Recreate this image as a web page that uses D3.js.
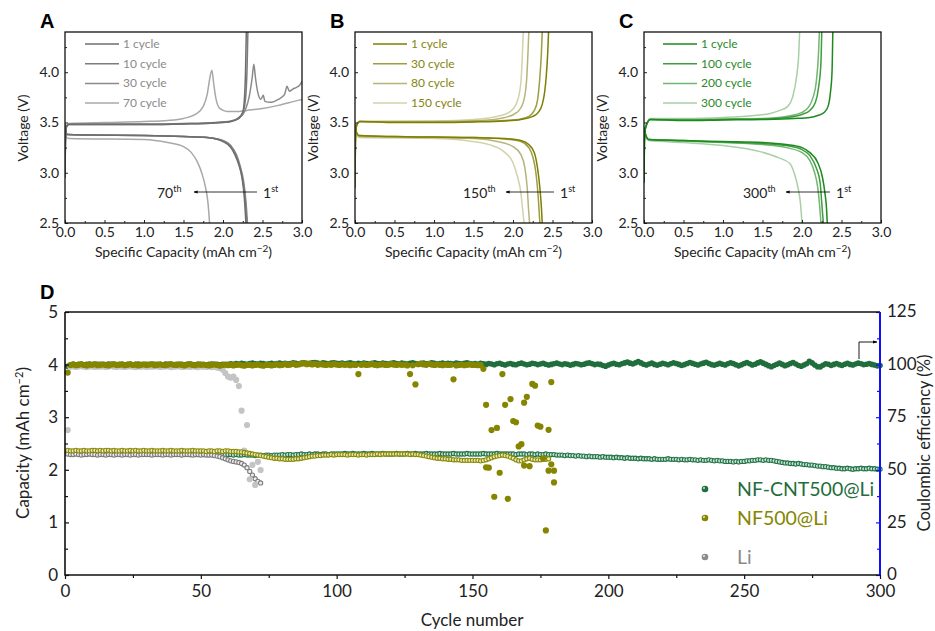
<!DOCTYPE html>
<html><head><meta charset="utf-8">
<script src="https://cdn.jsdelivr.net/npm/d3@7"></script>
<style>
body{margin:0;background:#fff}
text{font-family:Lato,"Open Sans",sans-serif;fill:#222}
</style></head><body>
<svg id="chart" width="935" height="631"></svg>
<script>
// ---- panel A: bare Li, voltage profiles [capacity, voltage]
const aCharge1 = [[0,2.95],[0.005,3.3],[0.02,3.46],[0.05,3.48],[0.5,3.48],[1.0,3.48],[1.5,3.485],[1.9,3.495],[2.1,3.51],[2.2,3.54],[2.25,3.6],[2.27,3.72],[2.285,4.0],[2.295,4.4]];
const aDisch1 = [[0,3.48],[0.01,3.42],[0.03,3.38],[0.3,3.375],[1.0,3.37],[1.5,3.36],[1.8,3.35],[2.0,3.31],[2.1,3.25],[2.15,3.18],[2.2,3.08],[2.24,2.95],[2.27,2.75],[2.29,2.5]];
const aCharge10 = [[0,2.95],[0.005,3.3],[0.02,3.46],[0.05,3.485],[0.5,3.485],[1.0,3.485],[1.5,3.49],[1.9,3.5],[2.1,3.515],[2.2,3.55],[2.26,3.62],[2.29,3.78],[2.305,4.05],[2.315,4.4]];
const aDisch10 = [[0,3.48],[0.01,3.42],[0.03,3.38],[0.3,3.375],[1.0,3.37],[1.5,3.36],[1.8,3.35],[2.0,3.315],[2.1,3.26],[2.16,3.18],[2.21,3.07],[2.25,2.93],[2.28,2.75],[2.3,2.5]];
const aCharge30 = [[0,2.95],[0.005,3.3],[0.02,3.46],[0.05,3.48],[1.0,3.48],[1.5,3.485],[1.9,3.495],[2.1,3.51],[2.2,3.54],[2.28,3.62],[2.33,3.75],[2.37,3.95],[2.39,4.08],[2.41,3.95],[2.44,3.8],[2.48,3.73],[2.51,3.77],[2.53,3.71],[2.6,3.7],[2.7,3.73],[2.78,3.78],[2.81,3.86],[2.84,3.81],[2.88,3.83],[2.93,3.85],[2.97,3.87],[3.0,3.91]];
const aDisch30 = [[0,3.48],[0.01,3.42],[0.03,3.38],[0.3,3.375],[1.0,3.37],[1.5,3.36],[1.8,3.35],[2.0,3.32],[2.1,3.27],[2.17,3.18],[2.22,3.06],[2.26,2.92],[2.29,2.72],[2.31,2.5]];
const aCharge70 = [[0,2.95],[0.005,3.3],[0.02,3.47],[0.05,3.49],[0.5,3.5],[1.0,3.51],[1.3,3.52],[1.5,3.54],[1.65,3.58],[1.75,3.66],[1.8,3.78],[1.84,3.97],[1.86,4.02],[1.88,3.9],[1.91,3.74],[1.96,3.64],[2.05,3.61],[2.2,3.61],[2.3,3.62],[2.5,3.64],[2.7,3.67],[2.9,3.71],[3.0,3.73]];
const aDisch70 = [[0,3.45],[0.02,3.35],[0.05,3.34],[1.0,3.33],[1.3,3.3],[1.5,3.26],[1.6,3.2],[1.68,3.1],[1.73,3.0],[1.78,2.85],[1.81,2.7],[1.83,2.5]];

// ---- panel B: NF500@Li
const bCharge1 = [[0,2.85],[0.005,3.3],[0.02,3.47],[0.06,3.51],[0.5,3.5],[1.0,3.5],[1.5,3.505],[1.9,3.515],[2.1,3.53],[2.25,3.56],[2.32,3.6],[2.37,3.68],[2.4,3.8],[2.42,3.95],[2.44,4.2],[2.45,4.4]];
const bDisch1 = [[0,3.48],[0.02,3.4],[0.05,3.37],[0.5,3.36],[1.0,3.355],[1.5,3.35],[1.9,3.34],[2.1,3.32],[2.2,3.28],[2.27,3.2],[2.31,3.05],[2.34,2.85],[2.36,2.65],[2.37,2.5]];
const bCharge30 = [[0,2.85],[0.005,3.3],[0.02,3.47],[0.06,3.51],[0.5,3.505],[1.0,3.505],[1.5,3.51],[1.9,3.52],[2.1,3.535],[2.2,3.56],[2.27,3.62],[2.31,3.72],[2.34,3.95],[2.36,4.2],[2.37,4.4]];
const bDisch30 = [[0,3.48],[0.02,3.4],[0.05,3.37],[0.5,3.36],[1.0,3.355],[1.5,3.35],[1.9,3.335],[2.1,3.31],[2.2,3.25],[2.25,3.16],[2.29,3.0],[2.32,2.75],[2.34,2.5]];
const bCharge80 = [[0,2.85],[0.005,3.3],[0.02,3.47],[0.06,3.51],[1.0,3.51],[1.6,3.52],[1.9,3.55],[2.05,3.6],[2.13,3.7],[2.17,3.9],[2.19,4.2],[2.2,4.4]];
const bDisch80 = [[0,3.47],[0.02,3.39],[0.05,3.36],[1.0,3.35],[1.5,3.34],[1.8,3.31],[2.0,3.26],[2.1,3.18],[2.15,3.05],[2.18,2.85],[2.2,2.6],[2.21,2.5]];
const bCharge150 = [[0,2.85],[0.005,3.3],[0.02,3.47],[0.06,3.51],[1.0,3.515],[1.5,3.53],[1.8,3.56],[1.95,3.6],[2.05,3.7],[2.1,3.9],[2.12,4.2],[2.13,4.4]];
const bDisch150 = [[0,3.46],[0.02,3.38],[0.05,3.35],[1.0,3.34],[1.4,3.32],[1.7,3.28],[1.9,3.2],[2.0,3.1],[2.06,2.95],[2.1,2.8],[2.12,2.65],[2.14,2.5]];

// ---- panel C: NF-CNT500@Li
const cCharge1 = [[0,2.9],[0.005,3.3],[0.02,3.45],[0.08,3.53],[0.5,3.52],[1.0,3.525],[1.5,3.53],[1.9,3.54],[2.1,3.55],[2.2,3.57],[2.28,3.6],[2.33,3.66],[2.36,3.8],[2.38,4.0],[2.39,4.4]];
const cDisch1 = [[0,3.45],[0.02,3.38],[0.06,3.33],[0.5,3.32],[1.0,3.31],[1.5,3.3],[1.8,3.28],[2.0,3.25],[2.1,3.2],[2.2,3.1],[2.26,2.95],[2.29,2.8],[2.31,2.65],[2.32,2.5]];
const cCharge100 = [[0,2.9],[0.005,3.3],[0.02,3.45],[0.08,3.53],[0.5,3.525],[1.0,3.53],[1.5,3.535],[1.8,3.55],[2.0,3.58],[2.1,3.62],[2.17,3.7],[2.21,3.85],[2.24,4.1],[2.25,4.4]];
const cDisch100 = [[0,3.45],[0.02,3.38],[0.06,3.33],[0.5,3.32],[1.0,3.305],[1.5,3.29],[1.8,3.27],[2.0,3.23],[2.1,3.17],[2.18,3.05],[2.23,2.9],[2.25,2.7],[2.27,2.5]];
const cCharge200 = [[0,2.9],[0.005,3.3],[0.02,3.45],[0.08,3.53],[0.5,3.53],[1.0,3.535],[1.5,3.54],[1.8,3.56],[2.0,3.6],[2.08,3.65],[2.14,3.75],[2.18,3.9],[2.21,4.2],[2.22,4.4]];
const cDisch200 = [[0,3.45],[0.02,3.38],[0.06,3.33],[0.5,3.315],[1.0,3.3],[1.5,3.28],[1.8,3.25],[2.0,3.2],[2.1,3.12],[2.16,3.0],[2.2,2.85],[2.22,2.7],[2.24,2.5]];
const cCharge300 = [[0,2.9],[0.005,3.3],[0.02,3.45],[0.08,3.54],[0.5,3.54],[1.0,3.55],[1.4,3.57],[1.6,3.59],[1.72,3.62],[1.82,3.66],[1.88,3.75],[1.93,3.95],[1.96,4.2],[1.97,4.4]];
const cDisch300 = [[0,3.45],[0.02,3.37],[0.06,3.32],[0.5,3.3],[1.0,3.27],[1.47,3.21],[1.7,3.15],[1.85,3.09],[1.9,3.0],[1.95,2.85],[1.98,2.7],[2.0,2.5]];

const capTicks = [0, 0.5, 1.0, 1.5, 2.0, 2.5, 3.0];
const voltTicks = [2.5, 3.0, 3.5, 4.0];

// ---- panel D: cycling, index = cycle - 1
const cntCap = [
2.33,2.33,2.32,2.33,2.32,2.32,2.33,2.32,2.32,2.32,2.31,2.32,2.32,2.31,2.32,2.31,2.31,2.32,2.31,2.31,
2.31,2.31,2.30,2.31,2.31,2.30,2.31,2.30,2.30,2.31,2.30,2.30,2.31,2.30,2.30,2.30,2.31,2.30,2.30,2.30,
2.30,2.30,2.29,2.30,2.30,2.29,2.30,2.29,2.29,2.30,2.29,2.29,2.29,2.30,2.29,2.29,2.29,2.28,2.29,2.29,
2.29,2.28,2.29,2.28,2.28,2.29,2.28,2.28,2.28,2.27,2.28,2.28,2.27,2.28,2.28,2.27,2.28,2.28,2.28,2.29,
2.28,2.29,2.29,2.28,2.29,2.29,2.30,2.29,2.29,2.30,2.29,2.30,2.30,2.29,2.30,2.30,2.29,2.30,2.30,2.30,
2.30,2.30,2.31,2.30,2.30,2.31,2.30,2.30,2.30,2.31,2.30,2.30,2.31,2.30,2.30,2.30,2.31,2.30,2.30,2.30,
2.30,2.31,2.30,2.30,2.30,2.31,2.30,2.30,2.31,2.30,2.30,2.30,2.31,2.30,2.30,2.30,2.30,2.31,2.30,2.30,
2.30,2.30,2.31,2.30,2.30,2.30,2.30,2.31,2.30,2.30,2.30,2.30,2.30,2.31,2.30,2.30,2.30,2.30,2.31,2.30,
2.30,2.30,2.30,2.30,2.30,2.29,2.30,2.30,2.30,2.29,2.30,2.30,2.29,2.30,2.29,2.29,2.30,2.29,2.29,2.29,
2.28,2.28,2.28,2.27,2.28,2.27,2.27,2.26,2.27,2.26,2.26,2.25,2.26,2.25,2.25,2.25,2.24,2.25,2.24,2.24,
2.24,2.23,2.24,2.23,2.23,2.22,2.23,2.22,2.22,2.22,2.21,2.22,2.21,2.21,2.21,2.20,2.21,2.20,2.20,2.20,
2.20,2.21,2.20,2.20,2.20,2.19,2.20,2.19,2.19,2.20,2.19,2.19,2.18,2.19,2.18,2.18,2.19,2.18,2.17,2.18,
2.17,2.17,2.16,2.16,2.16,2.15,2.16,2.15,2.16,2.16,2.17,2.17,2.18,2.18,2.19,2.19,2.18,2.19,2.18,2.18,
2.17,2.16,2.15,2.14,2.13,2.13,2.12,2.12,2.11,2.12,2.11,2.10,2.10,2.09,2.09,2.08,2.07,2.07,2.06,2.06,
2.05,2.04,2.04,2.03,2.03,2.02,2.02,2.03,2.02,2.01,2.02,2.02,2.03,2.02,2.02,2.03,2.02,2.02,2.01,2.01];
const cntCE = [
99.2,99.8,100.1,99.9,100.2,100.0,99.8,100.1,100.3,100.0,99.9,100.2,100.1,99.8,100.0,100.3,100.1,99.9,100.0,100.2,
100.1,99.9,100.2,100.0,99.8,100.1,100.3,100.0,99.9,100.2,100.0,99.8,100.1,100.2,100.0,99.9,100.3,100.1,100.0,99.8,
100.2,100.0,100.1,99.9,100.2,100.3,100.0,99.9,100.1,100.2,100.0,99.8,100.1,100.3,100.0,100.2,99.9,100.1,100.0,100.2,
100.4,100.2,100.5,100.3,100.6,100.4,100.2,100.5,100.7,100.4,100.3,100.6,100.5,100.2,100.4,100.6,100.3,100.5,100.7,100.4,
100.6,100.3,100.5,100.8,100.6,100.4,100.7,100.9,100.6,100.5,100.8,101.0,100.7,100.5,100.8,100.6,100.4,100.7,100.9,100.6,
100.5,100.7,100.4,100.6,100.8,100.5,100.3,100.6,100.4,100.7,100.5,100.3,100.6,100.8,100.5,100.4,100.7,100.5,100.3,100.6,
100.8,100.5,100.4,100.7,100.5,100.3,100.6,100.8,100.5,100.4,100.6,100.7,100.4,100.5,100.8,100.6,100.3,100.5,100.7,100.4,
100.6,100.5,100.3,100.7,100.5,100.4,100.6,100.8,100.5,100.3,100.5,100.2,100.6,100.4,100.1,100.5,100.3,99.9,100.4,100.6,
100.2,99.8,100.3,100.5,100.1,99.9,100.4,100.7,100.3,99.9,100.2,100.6,100.4,100.0,100.3,100.6,100.2,99.8,100.1,100.4,
100.7,100.3,100.0,100.4,100.2,99.7,100.1,100.5,100.3,99.9,100.2,100.6,100.8,100.4,100.0,100.3,100.1,99.6,99.2,99.8,
100.3,100.6,100.2,99.9,100.4,100.8,101.2,100.7,100.3,100.9,101.5,100.8,100.2,99.8,100.3,100.7,100.1,99.7,100.2,100.6,
100.3,99.9,100.4,100.9,100.5,100.1,99.6,100.0,100.5,101.0,100.6,100.2,99.8,100.3,100.7,101.1,100.5,100.0,99.7,100.2,
100.6,100.2,99.8,100.4,100.9,100.5,99.9,99.4,99.9,100.5,101.0,100.4,99.8,100.2,100.8,101.3,100.7,100.1,99.5,99.0,
99.6,100.2,100.7,100.1,99.5,99.9,100.5,101.0,100.3,99.6,99.2,99.8,100.4,101.6,100.8,99.8,99.0,98.9,99.7,100.4,
100.2,99.6,100.1,100.5,100.0,99.6,100.2,100.6,100.1,99.8,100.3,100.7,100.4,100.0,100.2,100.5,100.1,99.8,99.4,99.6];
const nfCap = [
2.37,2.36,2.36,2.37,2.36,2.36,2.37,2.36,2.36,2.37,2.37,2.36,2.37,2.36,2.37,2.37,2.36,2.37,2.36,2.36,
2.37,2.36,2.36,2.37,2.36,2.37,2.36,2.36,2.37,2.36,2.36,2.37,2.36,2.36,2.36,2.37,2.36,2.36,2.37,2.36,
2.36,2.36,2.37,2.36,2.36,2.36,2.37,2.36,2.36,2.36,2.36,2.35,2.36,2.36,2.35,2.36,2.36,2.35,2.36,2.36,
2.35,2.35,2.35,2.34,2.34,2.33,2.32,2.31,2.30,2.29,2.28,2.27,2.26,2.25,2.24,2.23,2.22,2.22,2.21,2.21,
2.20,2.20,2.20,2.20,2.21,2.21,2.22,2.23,2.24,2.25,2.26,2.26,2.27,2.27,2.28,2.28,2.28,2.29,2.28,2.29,
2.29,2.29,2.29,2.28,2.29,2.29,2.29,2.28,2.29,2.29,2.28,2.29,2.29,2.29,2.30,2.29,2.30,2.30,2.30,2.30,
2.30,2.30,2.30,2.30,2.30,2.30,2.29,2.30,2.29,2.29,2.28,2.27,2.26,2.25,2.24,2.23,2.22,2.22,2.21,2.21,
2.20,2.20,2.19,2.19,2.19,2.18,2.18,2.18,2.18,2.18,2.18,2.18,2.17,2.18,2.19,2.21,2.23,2.25,2.26,2.27,
2.28,2.27,2.26,2.24,2.22,2.19,2.17,2.17,2.19,2.21,2.22,2.20,2.19,2.19,2.19,2.20,2.20,2.21];
const nfCE = [
96.2,99.8,100.1,99.7,99.9,100.2,99.8,99.6,100.0,99.9,100.2,99.7,99.9,100.1,99.8,99.6,100.0,100.2,99.8,99.9,
100.1,99.7,99.9,100.2,99.8,100.0,99.6,99.9,100.1,99.8,100.0,100.2,99.7,99.9,100.1,99.8,99.7,100.0,100.2,99.9,
99.8,100.1,99.9,99.6,100.0,100.2,99.8,99.7,100.1,99.9,100.0,99.8,99.6,99.9,100.1,99.8,99.5,99.8,100.0,99.7,
99.9,99.6,99.8,100.0,99.7,99.5,99.8,99.9,99.6,99.8,100.0,99.7,99.5,99.8,99.9,99.6,99.8,100.1,99.7,99.9,
100.2,99.8,100.0,100.3,99.9,100.1,100.4,100.6,100.2,100.5,100.1,100.3,99.9,100.2,100.0,99.8,100.1,99.9,100.2,100.0,
99.8,100.1,99.9,100.0,99.7,100.0,99.8,95.5,99.9,100.1,99.8,100.0,100.2,99.9,99.7,100.0,100.1,99.8,99.9,100.2,
100.0,99.8,100.1,99.9,100.0,99.6,95.5,99.7,90.6,100.2,100.4,100.1,99.9,100.3,100.0,99.8,100.1,99.9,99.7,100.0,
99.8,99.9,93.0,99.6,99.8,100.0,99.7,99.9,100.1,99.8,99.9,99.7,99.8,98.0,80.9,51.0,68.9,37.2,69.9,48.6,
95.5,80.9,36.2,83.6,73.2,72.6,61.1,62.2,81.9,84.7,51.7,90.8,90.0,71.0,70.5,55.5,21.2,69.0,91.7,44.0];
const nfCEExtra = [[155,51.2],[169,52.0],[178,49.6],[179,52.6],[180,49.6]];
const liCap = [
2.30,2.29,2.29,2.30,2.29,2.28,2.29,2.29,2.30,2.29,2.29,2.28,2.29,2.29,2.28,2.29,2.29,2.28,2.29,2.29,
2.28,2.29,2.29,2.28,2.29,2.29,2.28,2.29,2.29,2.29,2.29,2.28,2.29,2.29,2.29,2.28,2.29,2.29,2.28,2.29,
2.29,2.29,2.28,2.29,2.29,2.29,2.28,2.29,2.29,2.28,2.29,2.28,2.28,2.28,2.27,2.26,2.25,2.23,2.21,2.19,
2.17,2.16,2.15,2.14,2.12,2.09,2.04,1.97,1.90,1.83,1.78,1.75];
const liCE = [
68.9,99.0,99.2,98.9,99.1,99.3,99.0,98.8,99.1,99.2,98.9,99.1,99.0,99.2,98.9,99.1,99.3,99.0,98.9,99.2,
99.0,98.9,99.1,99.2,99.0,98.8,99.1,99.0,99.2,98.9,99.1,99.0,99.2,99.1,98.9,99.0,99.2,99.1,98.8,99.0,
99.1,99.2,98.9,99.0,99.1,98.9,99.2,99.0,98.8,99.1,99.0,98.9,99.1,98.8,98.9,98.6,98.4,97.7,96.0,94.3,
93.8,94.3,92.7,89.8,78.1,59.1,71.3,45.5,52.3,42.8,53.8,49.9];

const cycleTicks = [0, 50, 100, 150, 200, 250, 300];
const capDTicks = [0, 1, 2, 3, 4, 5];
const ceTicks = [0, 25, 50, 75, 100, 125];

const svg = d3.select("#chart");
svg.append("rect").attr("width", 935).attr("height", 631).attr("fill", "#fff");
const defs = svg.append("defs");
defs.append("marker").attr("id", "arr").attr("viewBox", "0 0 10 10")
    .attr("refX", 9).attr("refY", 5).attr("markerWidth", 5).attr("markerHeight", 5)
    .attr("orient", "auto").append("path").attr("d", "M0,1.5L10,5L0,8.5Z").attr("fill", "#000");

function sup(text, base, s, size) {
    text.append("tspan").text(base);
    text.append("tspan").attr("dy", -6).attr("font-size", size).text(s);
}

function drawPanel(p) {
    const g = svg.append("g");
    const x = d3.scaleLinear().domain([0, 3]).range([p.x0, p.x0 + 237]);
    const y = d3.scaleLinear().domain([2.5, 4.4]).range([223, 32]);
    defs.append("clipPath").attr("id", "clip" + p.name)
        .append("rect").attr("x", p.x0).attr("y", 32).attr("width", 237).attr("height", 191);
    const line = d3.line().x(d => x(d[0])).y(d => y(d[1])).curve(d3.curveMonotoneX);

    // curves, last (oldest style) first so 1st cycle stays on top
    p.curves.slice().reverse().forEach(c => {
        [c.charge, c.disch].forEach(pts => {
            g.append("path").attr("clip-path", `url(#clip${p.name})`)
                .attr("d", line(pts)).attr("fill", "none")
                .attr("stroke", c.color).attr("stroke-width", 1.5);
        });
    });

    // axes
    g.append("g").attr("transform", "translate(0,223)")
        .call(d3.axisBottom(x).tickValues(capTicks).tickFormat(d3.format(".1f")).tickSize(-3).tickPadding(4));
    g.append("g").attr("transform", "translate(0,223)")
        .call(d3.axisBottom(x).tickValues(d3.range(0.25, 3, 0.5)).tickFormat("").tickSize(-2));
    g.append("g").attr("transform", `translate(${p.x0},0)`)
        .call(d3.axisLeft(y).tickValues(voltTicks).tickFormat(d3.format(".1f")).tickSize(-3).tickPadding(6));
    g.append("g").attr("transform", `translate(${p.x0},0)`)
        .call(d3.axisLeft(y).tickValues([2.75, 3.25, 3.75, 4.25]).tickFormat("").tickSize(-2));
    g.selectAll(".domain").remove();
    g.selectAll(".tick text").attr("font-size", 14).attr("font-family", "Lato").attr("fill", "#222");
    g.selectAll(".tick line").attr("stroke", "#222");

    g.append("rect").attr("x", p.x0).attr("y", 32).attr("width", 237).attr("height", 191)
        .attr("fill", "none").attr("stroke", "#111").attr("stroke-width", 1.3);

    // titles
    const xt = g.append("text").attr("x", p.x0 + 118.5).attr("y", 257).attr("text-anchor", "middle").attr("font-size", 14);
    xt.append("tspan").text("Specific Capacity (mAh cm");
    xt.append("tspan").attr("dy", -5).attr("font-size", 10).text("−2");
    xt.append("tspan").attr("dy", 5).text(")");
    g.append("text").attr("transform", `translate(${p.x0 - 37},128) rotate(-90)`)
        .attr("text-anchor", "middle").attr("font-size", 14).text("Voltage (V)");

    g.append("text").attr("x", p.x0 - 25).attr("y", 28).attr("font-size", 20)
        .attr("font-weight", "bold").style("font-family", "'Liberation Sans',Arial,sans-serif")
        .style("fill", "#000").text(p.name);

    // legend
    p.curves.forEach((c, i) => {
        const ly = 44 + i * 19.7;
        g.append("line").attr("x1", p.x0 + p.leg).attr("x2", p.x0 + p.leg + 34)
            .attr("y1", ly).attr("y2", ly).attr("stroke", c.color).attr("stroke-width", 1.5);
        g.append("text").attr("x", p.x0 + p.leg + 38).attr("y", ly + 4).attr("font-size", 12)
            .style("fill", p.textColor).text(c.label);
    });

    // annotation arrow
    const a = p.anno;
    const t1 = g.append("text").attr("x", a.tx).attr("y", 198).attr("font-size", 14);
    sup(t1, a.last, "th", 9);
    g.append("line").attr("x1", a.x1).attr("x2", a.x2).attr("y1", 192).attr("y2", 192)
        .attr("stroke", "#000").attr("stroke-width", 0.8).attr("marker-end", "url(#arr)");
    const t2 = g.append("text").attr("x", a.x1 + 6).attr("y", 198).attr("font-size", 14);
    sup(t2, "1", "st", 9);
}

drawPanel({name: "A", x0: 65, leg: 20, textColor: "#8a8a8a",
    anno: {last: "70", tx: 157, x1: 257, x2: 194},
    curves: [
        {label: "1 cycle", color: "#6e6e6e", charge: aCharge1, disch: aDisch1},
        {label: "10 cycle", color: "#7c7c7c", charge: aCharge10, disch: aDisch10},
        {label: "30 cycle", color: "#8a8a8a", charge: aCharge30, disch: aDisch30},
        {label: "70 cycle", color: "#a8a8a8", charge: aCharge70, disch: aDisch70}]});
drawPanel({name: "B", x0: 355, leg: 18, textColor: "#858510",
    anno: {last: "150", tx: 463, x1: 554, x2: 506},
    curves: [
        {label: "1 cycle", color: "#7f7f00", charge: bCharge1, disch: bDisch1},
        {label: "30 cycle", color: "#9d9d45", charge: bCharge30, disch: bDisch30},
        {label: "80 cycle", color: "#b5b57a", charge: bCharge80, disch: bDisch80},
        {label: "150 cycle", color: "#d2d2ac", charge: bCharge150, disch: bDisch150}]});
drawPanel({name: "C", x0: 644, leg: 19, textColor: "#2a8a2a",
    anno: {last: "300", tx: 743, x1: 830, x2: 786},
    curves: [
        {label: "1 cycle", color: "#1d8a1d", charge: cCharge1, disch: cDisch1},
        {label: "100 cycle", color: "#3f9c3f", charge: cCharge100, disch: cDisch100},
        {label: "200 cycle", color: "#72b672", charge: cCharge200, disch: cDisch200},
        {label: "300 cycle", color: "#a9cfa9", charge: cCharge300, disch: cDisch300}]});

// ---- panel D
const gD = svg.append("g");
const xD = d3.scaleLinear().domain([0, 300]).range([65, 880]);
const yL = d3.scaleLinear().domain([0, 5]).range([575, 312]);
const yR = d3.scaleLinear().domain([0, 125]).range([575, 312]);

function capDots(arr, fill, stroke) {
    gD.append("g").selectAll("circle").data(arr).join("circle")
        .attr("cx", (d, i) => xD(i + 1)).attr("cy", d => yL(d)).attr("r", 2.1)
        .attr("fill", fill).attr("stroke", stroke).attr("stroke-width", 1.1);
}
function ceDots(arr, color, r) {
    gD.append("g").selectAll("circle").data(arr).join("circle")
        .attr("cx", (d, i) => xD(i + 1)).attr("cy", d => yR(d)).attr("r", r).attr("fill", color);
}

const green = "#1f6e3c", olive = "#858500", liLight = "#c4c4c4", liDark = "#8a8a8a";
capDots(cntCap, "#cfe5d5", "#24744a");
ceDots(cntCE, green, 2.8);
capDots(liCap, "#f0f0f0", "#7c7c7c");
ceDots(liCE, liLight, 3.1);
capDots(nfCap, "#ecebb8", "#8a8a0c");
ceDots(nfCE, olive, 3.1);
gD.append("g").selectAll("circle").data(nfCEExtra).join("circle")
    .attr("cx", d => xD(d[0])).attr("cy", d => yR(d[1])).attr("r", 3.1).attr("fill", olive);

// axes D
gD.append("g").attr("transform", "translate(0,575)")
    .call(d3.axisBottom(xD).tickValues(cycleTicks).tickFormat(d3.format("d")).tickSize(4).tickPadding(6));
gD.append("g").attr("transform", "translate(0,575)")
    .call(d3.axisBottom(xD).tickValues(d3.range(25, 300, 50)).tickFormat("").tickSize(3));
gD.append("g").attr("transform", "translate(65,0)")
    .call(d3.axisLeft(yL).tickValues(capDTicks).tickFormat(d3.format("d")).tickSize(-4).tickPadding(7));
gD.append("g").attr("transform", "translate(65,0)")
    .call(d3.axisLeft(yL).tickValues(d3.range(0.5, 5, 1)).tickFormat("").tickSize(-3));
gD.append("g").attr("class", "rax").attr("transform", "translate(880,0)")
    .call(d3.axisRight(yR).tickValues(ceTicks).tickSize(-4).tickPadding(7));
gD.append("g").attr("class", "rax").attr("transform", "translate(880,0)")
    .call(d3.axisRight(yR).tickValues(d3.range(12.5, 125, 25)).tickFormat("").tickSize(-3));
gD.selectAll(".domain").remove();
gD.selectAll(".tick text").attr("font-size", 17).attr("font-family", "Lato").attr("fill", "#222");
gD.selectAll(".rax .tick text").attr("dy", "0.28em");
gD.selectAll(".tick line").attr("stroke", "#111").attr("stroke-width", 1.2);
gD.selectAll(".rax .tick line").attr("stroke", "#1010ff");

gD.append("path").attr("d", "M65,312V575H880").attr("fill", "none").attr("stroke", "#111").attr("stroke-width", 1.6);
gD.append("line").attr("x1", 65).attr("x2", 880).attr("y1", 312).attr("y2", 312).attr("stroke", "#111").attr("stroke-width", 1.6);
gD.append("line").attr("x1", 880).attr("x2", 880).attr("y1", 312).attr("y2", 575).attr("stroke", "#1010ff").attr("stroke-width", 2);

// arrow to right axis
gD.append("path").attr("d", "M859,359V342H877").attr("fill", "none").attr("stroke", "#000")
    .attr("stroke-width", 0.9).attr("marker-end", "url(#arr)");

// titles D
gD.append("text").attr("x", 472).attr("y", 626).attr("text-anchor", "middle").attr("font-size", 17).text("Cycle number");
const yt = gD.append("text").attr("transform", "translate(29,443) rotate(-90)").attr("text-anchor", "middle").attr("font-size", 17);
yt.append("tspan").text("Capacity (mAh cm");
yt.append("tspan").attr("dy", -6).attr("font-size", 11).text("−2");
yt.append("tspan").attr("dy", 6).text(")");
gD.append("text").attr("transform", "translate(930,443) rotate(-90)").attr("text-anchor", "middle")
    .attr("font-size", 16.5).text("Coulombic efficiency (%)");
gD.append("text").attr("x", 40).attr("y", 299).attr("font-size", 20).attr("font-weight", "bold")
    .style("font-family", "'Liberation Sans',Arial,sans-serif").style("fill", "#000").text("D");

// legend D
const legD = [
    {label: "NF-CNT500@Li", color: green, y: 489},
    {label: "NF500@Li", color: olive, y: 518},
    {label: "Li", color: liDark, y: 557}];
legD.forEach(l => {
    gD.append("circle").attr("cx", 705).attr("cy", l.y).attr("r", 3.3).attr("fill", l.color);
    gD.append("circle").attr("cx", 704).attr("cy", l.y - 1).attr("r", 1.2).attr("fill", "#fff").attr("opacity", 0.6);
    gD.append("text").attr("x", 737).attr("y", l.y + 7).attr("font-size", 19.5).style("fill", l.color).text(l.label);
});
</script>
</body></html>
